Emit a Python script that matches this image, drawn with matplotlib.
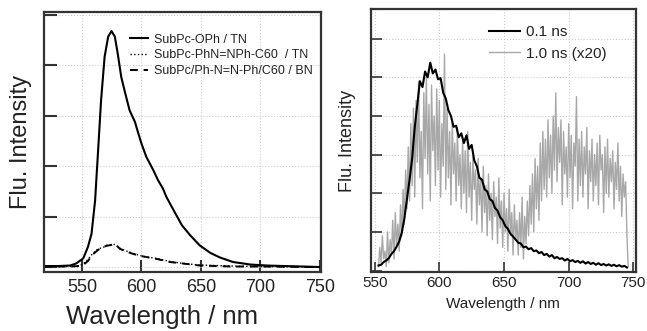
import numpy as np
import matplotlib
matplotlib.use("Agg")
import matplotlib.pyplot as plt

plt.rcParams['font.family'] = ['Liberation Sans', 'DejaVu Sans']

# 左图: 稳态荧光光谱
wl_oph = [518, 530, 540, 545, 551, 555, 558, 561, 563.5, 566, 569, 572, 574.8, 577.6,
          580, 583, 586, 590, 594.5, 597, 600, 604, 610, 614, 618, 621, 627, 634,
          641, 649, 658, 666, 677, 691.5, 705.6, 720, 751]
int_oph = [0.02, 0.02, 0.03, 0.07, 0.17, 0.4, 0.66, 1.32, 2.3, 3.3, 4.17, 4.57, 4.68, 4.57,
           4.24, 3.77, 3.48, 3.11, 2.88, 2.68, 2.45, 2.19, 1.92, 1.72, 1.56, 1.39, 1.13, 0.83,
           0.63, 0.43, 0.28, 0.19, 0.10, 0.05, 0.03, 0.02, 0.0]

wl_azo = [518, 540, 548, 551, 555, 559, 563.5, 568, 570.5, 575, 577.6, 582, 587, 593,
          601.5, 613, 624, 635, 649, 677, 700, 751]
int_azo_tn = [0.01, 0.01, 0.03, 0.06, 0.15, 0.27, 0.36, 0.39, 0.43, 0.43, 0.45, 0.37, 0.32, 0.27,
              0.21, 0.17, 0.11, 0.07, 0.04, 0.02, 0.01, 0.0]
int_azo_bn = [0.01, 0.01, 0.02, 0.04, 0.12, 0.25, 0.34, 0.40, 0.42, 0.44, 0.46, 0.36, 0.31, 0.26,
              0.21, 0.16, 0.10, 0.07, 0.03, 0.01, 0.01, 0.0]

# 右图: 时间分辨荧光
wl_01 = np.arange(553, 746, 2)
int_01 = [0.13, 0.15, 0.22, 0.26, 0.32, 0.43, 0.5, 0.62, 0.75, 0.98,
          1.35, 1.85, 2.35, 2.9, 3.7, 4.3, 4.9, 4.75, 5.15, 5.0,
          5.38, 5.1, 5.2, 4.95, 4.98, 4.6, 4.45, 4.15, 4.0, 3.72,
          3.75, 3.45, 3.55, 3.3, 3.5, 3.15, 3.25, 2.85, 2.7, 2.4,
          2.35, 2.1, 2.05, 1.85, 1.8, 1.62, 1.55, 1.38, 1.3, 1.15,
          1.08, 0.95, 0.88, 0.8, 0.72, 0.7, 0.6, 0.62, 0.55, 0.58,
          0.5, 0.52, 0.45, 0.48, 0.4, 0.43, 0.36, 0.4, 0.32, 0.35,
          0.3, 0.32, 0.26, 0.3, 0.24, 0.27, 0.22, 0.25, 0.2, 0.24,
          0.18, 0.22, 0.17, 0.2, 0.15, 0.19, 0.14, 0.17, 0.13, 0.16,
          0.12, 0.15, 0.11, 0.14, 0.1, 0.12, 0.08]

wl_10 = np.arange(553, 747)
int_10 = [0.1, 0.6, 0.2, 0.9, 0.3, 0.5, 0.1, 1.0,
          0.2, 0.8, 0.4, 1.3, 0.3, 1.5, 0.6, 1.2, 0.5, 1.7,
          0.9, 2.1, 1.2, 2.6, 1.6, 3.2, 1.8, 3.8, 2.2, 4.2,
          1.9, 4.4, 2.8, 4.9, 2.4, 3.6, 1.6, 4.6, 2.9, 5.0,
          2.5, 4.3, 1.8, 4.8, 3.1, 4.0, 2.2, 4.7, 2.6, 4.4,
          1.9, 3.8, 2.7, 5.6, 2.1, 4.2, 2.4, 3.6, 1.7, 3.9,
          2.5, 3.3, 1.8, 3.7, 2.2, 3.0, 1.6, 3.4, 2.0, 3.1,
          1.5, 3.6, 1.9, 2.8, 1.3, 3.0, 2.1, 2.6, 1.2, 2.9,
          1.7, 2.4, 1.0, 2.7, 1.5, 2.2, 0.9, 2.5, 1.3, 2.0,
          0.8, 2.3, 1.4, 1.9, 0.7, 2.4, 1.1, 1.8, 0.6, 2.0,
          1.0, 1.6, 0.5, 2.1, 0.9, 1.5, 0.4, 1.7, 0.8, 1.3,
          0.4, 1.5, 0.6, 1.9, 0.3, 1.4, 0.7, 1.8, 0.9, 2.2,
          1.2, 2.5, 1.0, 2.9, 1.6, 2.7, 1.3, 3.3, 1.8, 3.6,
          2.1, 3.4, 1.9, 3.9, 2.4, 3.5, 2.0, 4.0, 2.6, 4.6,
          2.3, 3.7, 2.8, 3.9, 1.7, 3.6, 2.5, 3.2, 1.9, 3.8,
          2.4, 3.5, 1.6, 3.3, 2.7, 4.5, 1.8, 3.4, 2.2, 3.6,
          1.9, 3.2, 2.5, 3.7, 1.6, 3.1, 2.3, 3.4, 1.8, 3.0,
          2.2, 3.3, 1.7, 3.5, 2.6, 3.0, 1.5, 3.2, 2.0, 3.4,
          1.9, 2.9, 2.3, 3.1, 1.6, 2.8, 2.1, 3.3, 1.8, 2.7,
          1.4, 2.5, 1.9, 2.3, 0.9, 0.1]

xticks = [550, 600, 650, 700, 750]
frame_c = '#333333'
text_c = '#222222'

fig = plt.figure(figsize=(6.47, 3.31), dpi=100, facecolor='white')
ax1 = fig.add_axes([0.068, 0.178, 0.428, 0.786])
ax2 = fig.add_axes([0.573, 0.178, 0.410, 0.795])

# 左图
ax1.plot(wl_oph, int_oph, color='black', lw=1.5, label='SubPc-OPh / TN')
ax1.plot(wl_azo, int_azo_tn, color='black', lw=1.0, ls=':', label='SubPc-PhN=NPh-C60  / TN')
ax1.plot(wl_azo, int_azo_bn, color='black', lw=1.4, ls=(0, (4, 3)), label='SubPc/Ph-N=N-Ph/C60 / BN')
ax1.set_xlim(518, 751)
ax1.set_ylim(-0.1, 5.06)
ax1.set_yticks([0, 1, 2, 3, 4, 5])
ax1.set_xlabel('Wavelength / nm', fontsize=18.5, color=text_c)
ax1.set_ylabel('Flu. Intensity', fontsize=17, color=text_c)
ax1.xaxis.set_label_coords(0.425, -0.125)
ax1.yaxis.set_label_coords(-0.045, 0.5)
ax1.tick_params(axis='x', labelsize=13, length=9, width=1.5, pad=5)
ax1.tick_params(axis='y', length=9, width=1.5)
ax1.legend(loc='upper left', bbox_to_anchor=(0.27, 0.96), frameon=False, fontsize=9,
           handlelength=1.4, handletextpad=0.5, labelspacing=0.3, labelcolor=text_c)

# 右图
ax2.plot(wl_10, int_10, color='#a8a8a8', lw=1.0, label='1.0 ns (x20)', zorder=2)
ax2.plot(wl_01, int_01, color='black', lw=1.5, label='0.1 ns', zorder=3)
ax2.set_xlim(547, 752)
ax2.set_ylim(-0.04, 6.77)
ax2.set_yticks([0, 1, 2, 3, 4, 5, 6])
ax2.set_xlabel('Wavelength / nm', fontsize=11, color=text_c, labelpad=5)
ax2.set_ylabel('Flu. Intensity', fontsize=13, color=text_c)
ax2.yaxis.set_label_coords(-0.055, 0.5)
ax2.tick_params(axis='x', labelsize=11, length=7, width=1.2, pad=3)
ax2.tick_params(axis='y', length=8, width=1.2)
h, l = ax2.get_legend_handles_labels()
ax2.legend(h[::-1], l[::-1], loc='upper left', bbox_to_anchor=(0.395, 0.99), frameon=False,
           fontsize=11, handlelength=2.0, handletextpad=0.4, labelspacing=0.48, labelcolor=text_c)

for ax in [ax1, ax2]:
    ax.set_xticks(xticks)
    ax.set_yticklabels([])
    ax.tick_params(direction='in', colors=frame_c, labelcolor=text_c)
    ax.grid(True, ls=':', color='#cccccc', lw=0.8)
    for s in ax.spines.values():
        s.set_color(frame_c)
        s.set_linewidth(1.6)

fig.savefig('out.png', dpi=100)
